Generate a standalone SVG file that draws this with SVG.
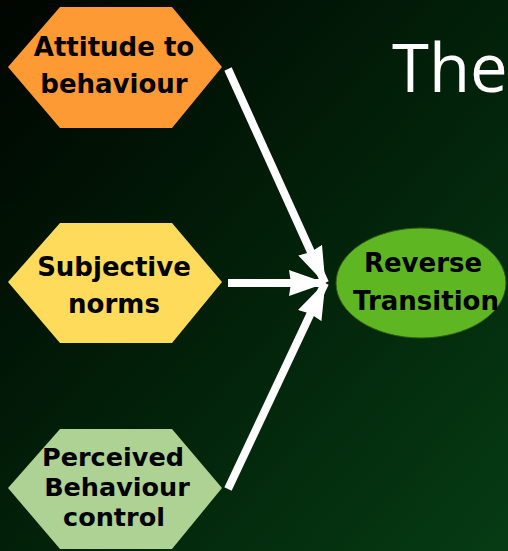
<svg xmlns="http://www.w3.org/2000/svg" width="508" height="551" viewBox="0 0 508 551">
<defs>
<linearGradient id="bg" x1="0" y1="0" x2="1" y2="1">
<stop offset="0" stop-color="#000500"/>
<stop offset="0.5" stop-color="#022009"/>
<stop offset="1" stop-color="#063c14"/>
</linearGradient>
<marker id="ah" viewBox="0 0 37 26" refX="36" refY="13" markerWidth="37" markerHeight="26" markerUnits="userSpaceOnUse" orient="auto">
<path d="M0,0 L37,13 L0,26 L2,13 Z" fill="#ffffff"/>
</marker>
</defs>
<style>
.lbl{font-family:"DejaVu Sans","Open Sans",sans-serif;font-weight:bold;font-size:26px;fill:#000;text-anchor:middle}
.sm{font-size:25.5px}
.conn{stroke:#fff;stroke-width:8;fill:none;marker-end:url(#ah)}
</style>
<rect width="508" height="551" fill="url(#bg)"/>
<text x="392" y="92" font-family="Open Sans, DejaVu Sans, sans-serif" font-size="67" fill="#ffffff">The</text>
<g id="connectors">
<line class="conn" x1="228" y1="69" x2="325" y2="283"/>
<line class="conn" x1="228" y1="283" x2="325" y2="283"/>
<line class="conn" x1="228" y1="489" x2="325" y2="283"/>
</g>
<g id="node-attitude">
<polygon points="8,67 60,7 172,7 222,67 172,128 60,128" fill="#fd9a33"/>
<text class="lbl"><tspan x="114" y="56">Attitude to</tspan><tspan x="114" y="93">behaviour</tspan></text>
</g>
<g id="node-subjective">
<polygon points="8,282 60,223 172,223 222,282 172,343 60,343" fill="#fedb5b"/>
<text class="lbl"><tspan x="114" y="276">Subjective</tspan><tspan x="114" y="313">norms</tspan></text>
</g>
<g id="node-perceived">
<polygon points="8,488 60,429 172,429 222,488 172,549 60,549" fill="#aed194"/>
<text class="lbl sm"><tspan x="113" y="466">Perceived</tspan><tspan x="117" y="496">Behaviour</tspan><tspan x="114" y="526">control</tspan></text>
</g>
<g id="node-reverse">
<ellipse cx="421" cy="283" rx="85" ry="55" fill="#5db622" stroke="#2f5a12" stroke-width="1"/>
<text class="lbl"><tspan x="423" y="272">Reverse</tspan><tspan x="426" y="310">Transition</tspan></text>
</g>
</svg>
